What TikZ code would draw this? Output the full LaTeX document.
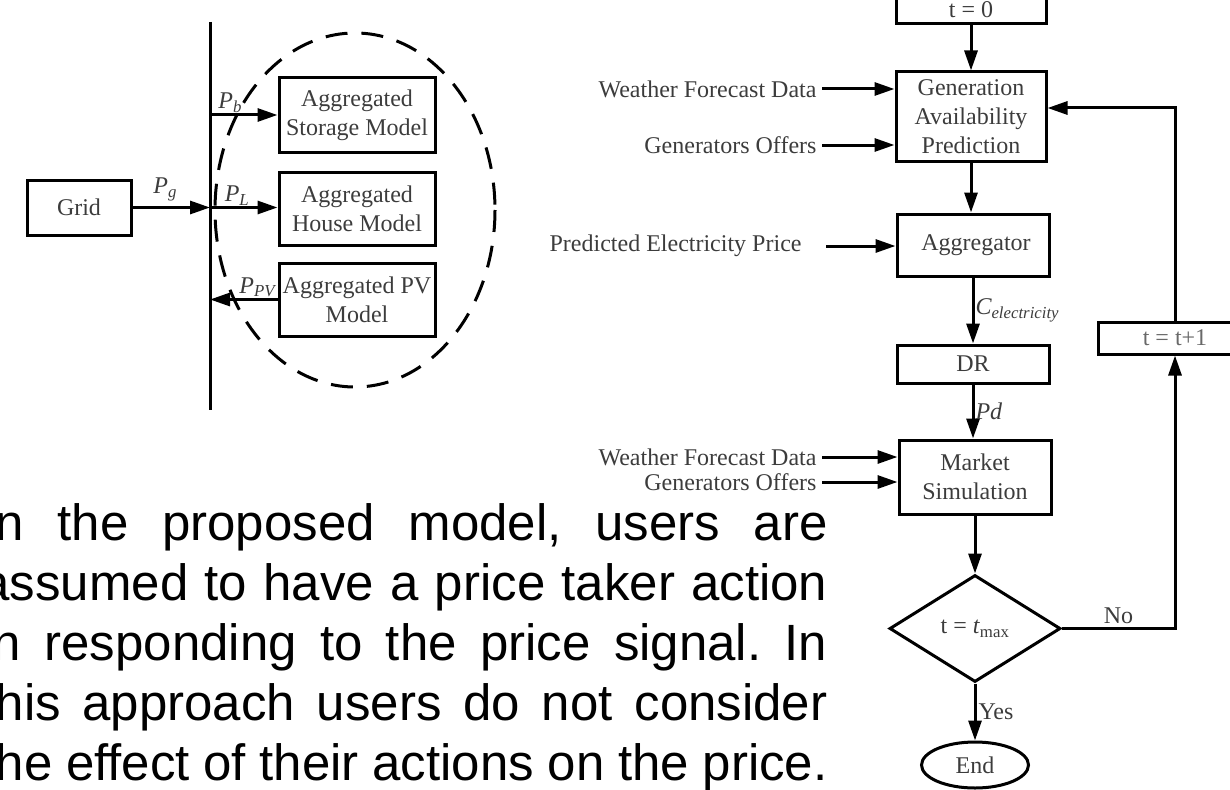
\documentclass[tikz,border=0pt]{standalone}
\usepackage{fontspec}
\setmainfont{Liberation Serif}
\newfontfamily\bodyfont{Liberation Sans}
\usetikzlibrary{shapes.geometric,arrows.meta}
\definecolor{labelgray}{RGB}{60,60,60}
\definecolor{fadegray}{RGB}{105,105,105}

\begin{document}
\begin{tikzpicture}[x=1pt,y=-1pt,line width=3pt,
      every node/.style={text=labelgray,font=\fontsize{24}{29}\selectfont},
      block/.style={draw,rectangle,align=center,inner sep=0pt},
      flow/.style={-{Triangle[length=20pt,width=13pt]}},
      feed/.style={anchor=east,inner xsep=4pt,inner ysep=0pt},
      power/.style={font=\fontsize{24}{24}\selectfont\itshape,inner sep=1pt},
      ring/.style={dash pattern=on 22pt off 14pt},
      body/.style={anchor=base west,inner sep=0pt,text=black,
        font=\bodyfont\fontsize{51}{60}\selectfont\frenchspacing}]
    \useasboundingbox (0,0) rectangle (1230,789);
    \clip (0,0) rectangle (1230,789);

    % bus with the aggregated models
    \coordinate (bustop) at (210,22);
    \coordinate (busbot) at (210,410);
    \draw (bustop) -- (busbot);
    \node[block,minimum width=104pt,minimum height=55pt] (grid) at (79,207.5) {Grid};
    \node[block,minimum width=156pt,minimum height=74pt] (storage) at (357,115) {Aggregated\\Storage Model};
    \node[block,minimum width=156pt,minimum height=73pt] (house) at (357,208.5) {Aggregated\\House Model};
    \node[block,minimum width=156pt,minimum height=73pt] (pv) at (357,299.5) {Aggregated PV\\Model};
    \draw[ring] (355,210) ellipse [x radius=140, y radius=177];
    \draw[flow] (grid.east) -- node[power,above,yshift=4pt,xshift=-6pt]{P\textsubscript{g}} (grid.east -| bustop);
    \draw[flow] (storage.west -| bustop) -- node[power,above,pos=0.3]{P\textsubscript{b}} (storage.west);
    \draw[flow] (grid.east -| bustop) -- node[power,above,pos=0.4]{P\textsubscript{L}} (grid.east -| house.west);
    \draw[flow] (pv.west) -- node[power,above,pos=0.3]{P\textsubscript{PV}} (pv.west -| bustop);

    % market loop
    \node[block,minimum width=150pt,minimum height=28pt] (t0) at (971,10) {t = 0};
    \node[block,minimum width=150pt,minimum height=89pt] (gen) at (971,116.5) {Generation\\Availability\\Prediction};
    \node[block,minimum width=152pt,minimum height=62pt] (agg) at (973,245) {\hspace{6pt}Aggregator};
    \node[block,minimum width=152pt,minimum height=38pt] (dr) at (973,364) {DR};
    \node[block,minimum width=152pt,minimum height=74pt] (market) at (975,477) {Market\\Simulation};
    \node[draw,diamond,minimum width=171pt,minimum height=107pt,inner sep=0pt] (check) at (975,628.5) {t = \textit{t}\textsubscript{max}};
    \node[draw,ellipse,minimum width=107pt,minimum height=46pt,inner sep=0pt] (finish) at (975,765) {End};
    \node[block,minimum width=154pt,minimum height=32pt,text=fadegray] (tnext) at (1175,338) {t = t+1};

    \node[feed] (weather) at (822,89) {Weather Forecast Data};
    \node[feed] (offers) at (822,145) {Generators Offers};
    \node[feed] (price) at (807,246) {Predicted Electricity Price};
    \node[feed] (weather2) at (822,457) {Weather Forecast Data};
    \node[feed] (offers2) at (822,482) {Generators Offers};
    \foreach \src/\dst in {weather/gen,offers/gen,weather2/market,offers2/market}
      \draw[flow] (\src) -- (\src -| \dst.west);
    \draw[flow] ([xshift=19pt]price.east) -- (price -| agg.west);

    \draw[flow] (t0.south) -- (t0.south |- gen.north);
    \draw[flow] (gen.south) -- (gen.south |- agg.north);
    \draw[flow] (agg.south) -- node[power,right]{C\textsubscript{electricity}} (agg.south |- dr.north);
    \draw[flow] (dr.south) -- node[power,right]{Pd} (dr.south |- market.north);
    \draw[flow] (market.south) -- (check.north);
    \draw[flow] (check.south) -- node[right,inner sep=2pt]{Yes} (finish.north);
    \draw[flow] (check.east) -| node[pos=0.25,above]{No} (tnext.south);
    \draw[flow] (tnext.north) |- ([yshift=8.5pt]gen.east);

    % text beside the chart
    \foreach \words [count=\row] in {{In the proposed model, users are},
        {assumed to have a price taker action},
        {in responding to the price signal. In},
        {this approach users do not consider},
        {the effect of their actions on the price.}}
      \node[body] (para\row) at (-20,{480+60*\row}) {\makebox[846pt][s]{\words}};
\end{tikzpicture}
\end{document}
